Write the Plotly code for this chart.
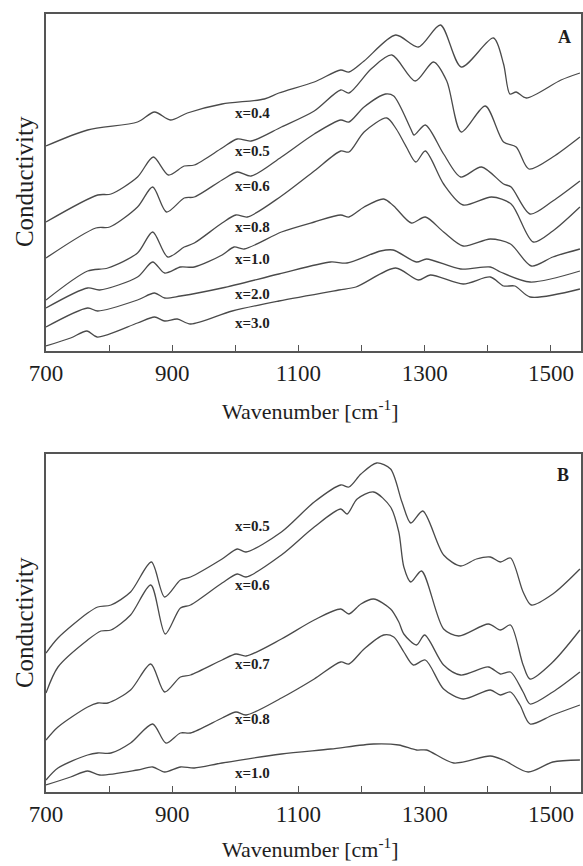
import plotly.graph_objects as go
from plotly.subplots import make_subplots

# ---------------- Panel A data (wavenumber, conductivity in arbitrary units) ----------------
A04_wn = [700, 766, 845, 872, 897, 924, 979, 1046, 1069, 1125, 1167, 1180, 1204, 1254, 1290, 1325, 1358, 1409, 1425, 1435, 1445, 1461, 1516, 1546]
A04_y  = [205, 221, 229, 239, 231, 238, 247, 252, 258, 269, 281, 279, 290, 316, 304, 326, 284, 313, 287, 257, 259, 253, 271, 278]

A05_wn = [700, 782, 803, 845, 870, 894, 919, 935, 979, 1003, 1025, 1073, 1125, 1167, 1180, 1215, 1248, 1285, 1314, 1335, 1358, 1396, 1425, 1445, 1465, 1503, 1546]
A05_y  = [129, 156, 157, 174, 194, 176, 185, 186, 203, 212, 210, 224, 240, 261, 258, 282, 296, 270, 289, 270, 219, 245, 209, 204, 182, 194, 214]

A06_wn = [700, 779, 801, 845, 869, 891, 919, 935, 979, 1003, 1025, 1073, 1125, 1167, 1180, 1204, 1238, 1251, 1278, 1283, 1301, 1330, 1357, 1390, 1425, 1437, 1467, 1503, 1546]
A06_y  = [93, 123, 124, 144, 164, 139, 153, 154, 171, 179, 175, 194, 217, 231, 229, 244, 257, 255, 222, 216, 226, 197, 174, 184, 167, 164, 137, 150, 170]

A08_wn = [700, 766, 798, 845, 869, 893, 919, 935, 979, 1001, 1019, 1073, 1125, 1167, 1180, 1204, 1240, 1255, 1271, 1286, 1301, 1330, 1361, 1406, 1437, 1472, 1503, 1546]
A08_y  = [51, 80, 83, 98, 119, 94, 104, 108, 128, 136, 134, 155, 180, 200, 199, 219, 233, 222, 204, 189, 200, 167, 146, 154, 147, 109, 120, 144]

A10_wn = [700, 766, 785, 845, 869, 888, 913, 935, 979, 998, 1014, 1073, 1125, 1167, 1180, 1204, 1235, 1251, 1279, 1301, 1330, 1361, 1404, 1436, 1469, 1503, 1546]
A10_y  = [43, 63, 61, 74, 89, 78, 84, 84, 96, 104, 102, 119, 129, 136, 134, 144, 152, 145, 128, 134, 119, 105, 112, 107, 85, 94, 102]

A20_wn = [700, 766, 782, 845, 872, 888, 913, 979, 1069, 1151, 1177, 1230, 1250, 1287, 1303, 1357, 1404, 1420, 1467, 1546]
A20_y  = [24, 43, 40, 51, 58, 53, 55, 63, 77, 89, 88, 100, 101, 89, 92, 82, 84, 79, 69, 80]

A30_wn = [700, 739, 765, 781, 845, 872, 888, 908, 929, 995, 1069, 1164, 1191, 1254, 1290, 1309, 1361, 1404, 1425, 1443, 1467, 1546]
A30_y  = [5, 13, 20, 14, 28, 34, 30, 32, 27, 40, 50, 61, 64, 83, 71, 76, 67, 74, 65, 65, 54, 62]

# ---------------- Panel B data ----------------
B05_wn = [700, 719, 766, 782, 803, 834, 867, 888, 913, 929, 979, 1003, 1017, 1073, 1125, 1167, 1180, 1199, 1224, 1246, 1264, 1278, 1297, 1330, 1357, 1382, 1404, 1420, 1436, 1456, 1469, 1503, 1546]
B05_y  = [139, 154, 179, 185, 187, 200, 230, 195, 212, 215, 233, 243, 240, 260, 290, 307, 305, 318, 329, 323, 290, 269, 281, 237, 226, 233, 235, 230, 234, 200, 187, 198, 223]

B06_wn = [700, 719, 766, 787, 803, 834, 866, 889, 913, 929, 979, 1003, 1017, 1073, 1125, 1167, 1177, 1193, 1219, 1246, 1259, 1267, 1278, 1295, 1330, 1354, 1401, 1420, 1436, 1456, 1467, 1503, 1546]
B06_y  = [99, 125, 152, 161, 162, 177, 207, 158, 184, 187, 209, 218, 215, 237, 265, 283, 278, 293, 300, 285, 260, 225, 210, 221, 163, 156, 168, 162, 167, 127, 113, 130, 162]

B07_wn = [700, 719, 766, 782, 798, 834, 866, 888, 913, 929, 979, 1001, 1017, 1073, 1125, 1167, 1180, 1199, 1219, 1246, 1259, 1267, 1287, 1300, 1330, 1357, 1401, 1420, 1436, 1456, 1467, 1503, 1546]
B07_y  = [52, 65, 85, 89, 89, 102, 128, 100, 115, 117, 132, 138, 136, 153, 172, 183, 178, 188, 193, 183, 170, 158, 147, 157, 127, 117, 125, 118, 120, 100, 88, 100, 120]

B08_wn = [700, 719, 766, 782, 803, 834, 869, 890, 913, 929, 979, 1001, 1017, 1073, 1125, 1167, 1180, 1204, 1235, 1251, 1267, 1282, 1301, 1330, 1361, 1404, 1420, 1436, 1451, 1467, 1503, 1546]
B08_y  = [12, 24, 37, 39, 39, 49, 68, 49, 59, 59, 74, 80, 77, 94, 113, 130, 128, 143, 157, 155, 140, 127, 132, 103, 93, 102, 97, 100, 87, 68, 77, 87]

B10_wn = [700, 739, 766, 785, 845, 869, 888, 913, 935, 979, 1073, 1151, 1219, 1259, 1287, 1303, 1346, 1404, 1425, 1464, 1503, 1546]
B10_y  = [7, 15, 21, 17, 22, 25, 20, 25, 24, 29, 38, 43, 48, 47, 42, 42, 29, 36, 32, 20, 30, 32]

A_series = [(A04_wn, A04_y), (A05_wn, A05_y), (A06_wn, A06_y), (A08_wn, A08_y),
            (A10_wn, A10_y), (A20_wn, A20_y), (A30_wn, A30_y)]
A_labels = ["x=0.4", "x=0.5", "x=0.6", "x=0.8", "x=1.0", "x=2.0", "x=3.0"]
A_label_y = [238, 200, 165, 124, 92, 57, 28]

B_series = [(B05_wn, B05_y), (B06_wn, B06_y), (B07_wn, B07_y), (B08_wn, B08_y), (B10_wn, B10_y)]
B_labels = ["x=0.5", "x=0.6", "x=0.7", "x=0.8", "x=1.0"]
B_label_y = [266, 207, 128, 73, 19]

label_wn = 1027
tick_vals = [700, 800, 900, 1000, 1100, 1200, 1300, 1400, 1500]
tick_text = ["700", "", "900", "", "1100", "", "1300", "", "1500"]

FONT = "Liberation Serif"
LINE = "#4a4a4a"
AX = "#555555"
TXT = "#1e1e1e"

fig = make_subplots(rows=2, cols=1, vertical_spacing=0.1324)

for wn, y in A_series:
    fig.add_trace(go.Scatter(x=wn, y=y, mode="lines", line=dict(color=LINE, width=1.3, shape="spline", smoothing=0.8),
                             showlegend=False, hoverinfo="skip"), row=1, col=1)
for wn, y in B_series:
    fig.add_trace(go.Scatter(x=wn, y=y, mode="lines", line=dict(color=LINE, width=1.3, shape="spline", smoothing=0.8),
                             showlegend=False, hoverinfo="skip"), row=2, col=1)

annotations = []
for txt, yy in zip(A_labels, A_label_y):
    annotations.append(dict(x=label_wn, y=yy, xref="x", yref="y", text="<b>" + txt + "</b>", showarrow=False,
                            font=dict(family=FONT, size=15, color=TXT)))
for txt, yy in zip(B_labels, B_label_y):
    annotations.append(dict(x=label_wn, y=yy, xref="x2", yref="y2", text="<b>" + txt + "</b>", showarrow=False,
                            font=dict(family=FONT, size=15, color=TXT)))
annotations.append(dict(x=1522, y=314, xref="x", yref="y", text="<b>A</b>", showarrow=False,
                        font=dict(family=FONT, size=18, color=TXT)))
annotations.append(dict(x=1519, y=317, xref="x2", yref="y2", text="<b>B</b>", showarrow=False,
                        font=dict(family=FONT, size=18, color=TXT)))
# y titles (pixel positions converted below)
annotations.append(dict(x=24, y=182, xref="paper", yref="paper", text="Conductivity", showarrow=False, textangle=-90,
                        font=dict(family=FONT, size=25, color=TXT)))
annotations.append(dict(x=24, y=623, xref="paper", yref="paper", text="Conductivity", showarrow=False, textangle=-90,
                        font=dict(family=FONT, size=25, color=TXT)))
# x titles
annotations.append(dict(x=311, y=410, xref="paper", yref="paper", text="Wavenumber [cm<sup>-1</sup>]", showarrow=False,
                        font=dict(family=FONT, size=22, color=TXT)))
annotations.append(dict(x=311, y=848, xref="paper", yref="paper", text="Wavenumber [cm<sup>-1</sup>]", showarrow=False,
                        font=dict(family=FONT, size=22, color=TXT)))

W, H = 583, 866
ML, MR, MT, MB = 46, 0, 14, 74
pw, ph = W - ML - MR, H - MT - MB
for a in annotations:
    a["xanchor"] = "center"
    a["yanchor"] = "middle"
    if a["xref"] == "paper":
        a["x"] = (a["x"] - ML) / pw
        a["y"] = (H - MB - a["y"]) / ph

xaxis_common = dict(range=[700, 1547.7], tickmode="array", tickvals=tick_vals, ticktext=tick_text,
                    ticks="inside", ticklen=6, tickcolor=AX, tickwidth=1.2, showline=True, linecolor=AX,
                    linewidth=1.6, mirror=True, showgrid=False, zeroline=False,
                    tickfont=dict(family=FONT, size=23, color=TXT), ticklabelstandoff=1)
yaxis_common = dict(showticklabels=False, ticks="", showline=True, linecolor=AX, linewidth=1.6, mirror=True,
                    showgrid=False, zeroline=False)

fig.update_layout(
    width=W, height=H, margin=dict(l=ML, r=MR, t=MT, b=MB),
    paper_bgcolor="white", plot_bgcolor="white",
    xaxis=dict(**xaxis_common, domain=[0, 1]),
    xaxis2=dict(**xaxis_common, domain=[0, 1]),
    yaxis=dict(**yaxis_common, range=[0, 337], domain=[441 / 778, 1]),
    yaxis2=dict(**yaxis_common, range=[0, 338], domain=[0, 338 / 778]),
    annotations=annotations,
)

fig.write_html("out.html")
